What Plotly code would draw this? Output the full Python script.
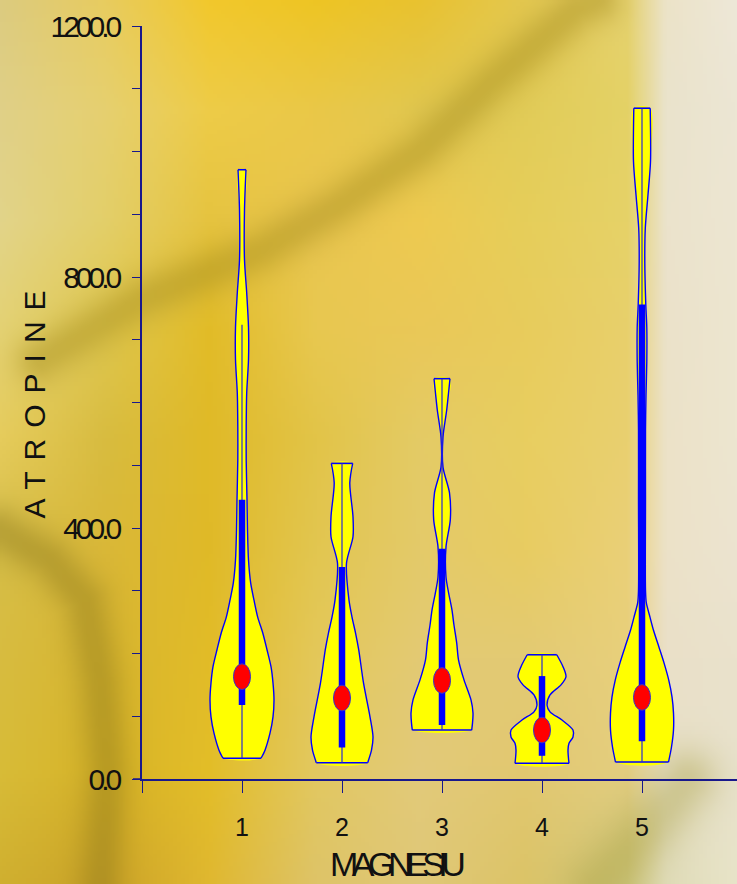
import plotly.graph_objects as go
import numpy as np
import zlib, struct, base64

# ---------------- data ----------------
groups = [1, 2, 3, 4, 5]
x_tick_vals = [0, 1, 2, 3, 4, 5]
x_tick_labels = ["", "1", "2", "3", "4", "5"]
y_tick_vals = [0, 100, 200, 300, 400, 500, 600, 700, 800, 900, 1000, 1100, 1200]
y_tick_labels = ["0.0", "", "", "", "400.0", "", "", "", "800.0", "", "", "", "1200.0"]

# violin outlines: y levels (bottom -> top) and half widths (category units)
v1_y = [33, 46, 73, 99, 126, 153, 179, 206, 233, 258, 285, 312, 349, 397, 445, 508, 561, 615, 668, 720, 775, 827, 907, 971]
v1_w = [0.19, 0.23, 0.28, 0.31, 0.32, 0.31, 0.29, 0.25, 0.207, 0.157, 0.12, 0.087, 0.065, 0.055, 0.05, 0.042, 0.042, 0.047, 0.065, 0.065, 0.047, 0.025, 0.025, 0.04]

v2_y = [26, 46, 67, 99, 153, 206, 233, 258, 285, 344, 386, 418, 472, 503]
v2_w = [0.257, 0.295, 0.31, 0.28, 0.215, 0.167, 0.135, 0.10, 0.07, 0.045, 0.11, 0.11, 0.078, 0.107]

v3_y = [78, 89, 105, 126, 158, 190, 217, 245, 269, 296, 322, 370, 413, 456, 497, 545, 588, 638]
v3_w = [0.297, 0.305, 0.31, 0.29, 0.22, 0.165, 0.147, 0.12, 0.10, 0.067, 0.04, 0.04, 0.083, 0.075, 0.01, 0.01, 0.047, 0.08]

v4_y = [25, 46, 57, 67, 78, 94, 107, 118, 134, 150, 163, 179, 198]
v4_w = [0.27, 0.26, 0.27, 0.31, 0.31, 0.20, 0.08, 0.05, 0.08, 0.19, 0.24, 0.21, 0.148]

v5_y = [27, 51, 78, 105, 131, 158, 185, 210, 237, 258, 281, 301, 445, 556, 612, 665, 719, 756, 824, 878, 931, 984, 1069]
v5_w = [0.265, 0.295, 0.315, 0.315, 0.30, 0.267, 0.22, 0.17, 0.115, 0.08, 0.043, 0.035, 0.035, 0.035, 0.04, 0.048, 0.048, 0.038, 0.028, 0.033, 0.06, 0.085, 0.082]

violin_y = [v1_y, v2_y, v3_y, v4_y, v5_y]
violin_w = [v1_w, v2_w, v3_w, v4_w, v5_w]

q1 = [118, 50, 86, 37, 60]
q3 = [445, 338, 367, 164, 756]
median = [163, 129, 157, 78, 130]
whisker_lo = [33, 26, 78, 25, 27]
whisker_hi = [724, 503, 638, 198, 1069]

# ---------------- styles ----------------
BLUE = "#0000FF"
NAVY = "#18188C"
YELLOW = "#FFFF00"
SANS = "Liberation Sans, Arial, sans-serif"

W, H = 737, 884
ML, MR, MT, MB = 142, 0, 26, 105
PW, PH = W - ML - MR, H - MT - MB

# ---------------- background texture (decoration only) ----------------
bg_xk = [0, 105, 210, 316, 421, 526, 630, 668, 737]
bg_yk = [0, 110, 220, 330, 440, 550, 660, 770, 884]
bg_rows = [
    ["#DCCB80", "#E8CC60", "#F2C82C", "#EEC524", "#E9C230", "#E4C850", "#E6D270", "#ECE3C8", "#EEE8D8"],
    ["#E0D088", "#E6D070", "#EECC48", "#EAC848", "#E2C850", "#E2CC58", "#E4D266", "#EAE3CC", "#ECE6D4"],
    ["#E2D48A", "#E3CF6A", "#E6C440", "#EAC650", "#EECA50", "#E6CE5A", "#E6D268", "#EBE3CC", "#EDE6D2"],
    ["#E4D274", "#E0C850", "#E2BC28", "#E8C850", "#EAC858", "#E8CC5C", "#E8D06C", "#EBE2CA", "#EDE6D0"],
    ["#E6CC5C", "#D8BC40", "#E0BA28", "#E2C448", "#E4CB66", "#E8CE60", "#E9D070", "#ECE2C8", "#EDE6D0"],
    ["#D6BE48", "#DAB838", "#E0BA28", "#E2C650", "#E4CA6A", "#E8CC62", "#EAD078", "#ECE2C8", "#ECE4D0"],
    ["#D8BC40", "#D8B630", "#E2BC28", "#E4C85A", "#E3CA74", "#E3CA74", "#E8D07C", "#EAE0C8", "#EAE2CC"],
    ["#D8BC38", "#D8B428", "#E3BE28", "#E2C860", "#E2CA7A", "#E2C870", "#E4CE80", "#E8E0C8", "#E8E2CC"],
    ["#D0B030", "#CCA428", "#E0B830", "#DEC468", "#E0C878", "#DCC468", "#D0C880", "#E0DCB8", "#E8E4C8"],
]
# darker streaks of the photo: (polyline, sigma px, colour, strength)
bg_strokes = [
    ([(40, 360), (141, 300), (263, 250), (338, 207), (423, 150), (493, 83), (578, 10), (600, 0)], 17, "#A89020", 0.45),
    ([(0, 530), (50, 560), (85, 600), (100, 680), (108, 770), (100, 884)], 17, "#8E7A1C", 0.42),
    ([(690, 780), (650, 830), (600, 884)], 22, "#A8A040", 0.38),
]


def hex_rgb(c):
    c = c.lstrip("#")
    return [int(c[i:i + 2], 16) for i in (0, 2, 4)]


def make_background(step=4):
    xs = np.arange(0, W, step) + step / 2
    ys = np.arange(0, H, step) + step / 2
    G = np.array([[hex_rgb(c) for c in row] for row in bg_rows], dtype=float)
    A = np.zeros((len(bg_yk), len(xs), 3))
    for r in range(len(bg_yk)):
        for ch in range(3):
            A[r, :, ch] = np.interp(xs, bg_xk, G[r, :, ch])
    img = np.zeros((len(ys), len(xs), 3))
    for ix in range(len(xs)):
        for ch in range(3):
            img[:, ix, ch] = np.interp(ys, bg_yk, A[:, ix, ch])
    X, Y = np.meshgrid(xs, ys)
    for pts, sig, col, strength in bg_strokes:
        d2 = np.full(X.shape, np.inf)
        for (x0, y0), (x1, y1) in zip(pts[:-1], pts[1:]):
            dx, dy = x1 - x0, y1 - y0
            t = np.clip(((X - x0) * dx + (Y - y0) * dy) / (dx * dx + dy * dy), 0, 1)
            px, py = x0 + t * dx, y0 + t * dy
            d2 = np.minimum(d2, (X - px) ** 2 + (Y - py) ** 2)
        a = strength * np.exp(-d2 / (2 * sig * sig))
        img = img * (1 - a[..., None]) + np.array(hex_rgb(col))[None, None, :] * a[..., None]
    img = np.clip(img, 0, 255).astype(np.uint8)
    h, w = img.shape[:2]
    raw = b"".join(b"\x00" + img[r].tobytes() for r in range(h))

    def chunk(t, d):
        c = struct.pack(">I", len(d)) + t + d
        return c + struct.pack(">I", zlib.crc32(t + d) & 0xFFFFFFFF)

    png = (b"\x89PNG\r\n\x1a\n"
           + chunk(b"IHDR", struct.pack(">IIBBBBB", w, h, 8, 2, 0, 0, 0))
           + chunk(b"IDAT", zlib.compress(raw, 9))
           + chunk(b"IEND", b""))
    return "data:image/png;base64," + base64.b64encode(png).decode()


fig = go.Figure()

for g, ys, ws in zip(groups, violin_y, violin_w):
    right_x = [g + w for w in ws]
    left_x = [g - w for w in ws]
    fig.add_trace(go.Scatter(
        x=right_x + left_x[::-1] + [right_x[0]],
        y=ys + ys[::-1] + [ys[0]],
        mode="lines", fill="toself", fillcolor=YELLOW,
        line=dict(width=0, shape="spline", smoothing=0.8),
        hoverinfo="skip", showlegend=False))
    for xs in (right_x, left_x):
        fig.add_trace(go.Scatter(
            x=xs, y=ys, mode="lines",
            line=dict(color=BLUE, width=1.4, shape="spline", smoothing=0.8),
            hoverinfo="skip", showlegend=False))
    fig.add_trace(go.Scatter(
        x=[left_x[0], right_x[0], None, left_x[-1], right_x[-1]],
        y=[ys[0], ys[0], None, ys[-1], ys[-1]],
        mode="lines", line=dict(color=BLUE, width=1.6),
        hoverinfo="skip", showlegend=False))

for g, lo, hi, a, b in zip(groups, whisker_lo, whisker_hi, q1, q3):
    fig.add_trace(go.Scatter(x=[g, g], y=[lo, hi], mode="lines",
                             line=dict(color="#2A2AD0", width=1.2),
                             hoverinfo="skip", showlegend=False))
    fig.add_trace(go.Scatter(x=[g, g], y=[a, b], mode="lines",
                             line=dict(color=BLUE, width=6.5),
                             hoverinfo="skip", showlegend=False))

shapes = []
EX, EY = 0.085, 20.5
for g, m in zip(groups, median):
    shapes.append(dict(type="circle", xref="x", yref="y",
                       x0=g - EX, x1=g + EX, y0=m - EY, y1=m + EY,
                       fillcolor="#FF0000", line=dict(color="#3333CC", width=1),
                       layer="above"))
shapes.append(dict(type="line", xref="paper", yref="y",
                   x0=-9 / PW, x1=0, y0=0, y1=0,
                   line=dict(color=NAVY, width=1.5)))

y_tick_text = ['<span style="letter-spacing:-4px">%s</span>' % t if t else "" for t in y_tick_labels]

fig.update_layout(
    width=W, height=H, autosize=False,
    margin=dict(l=ML, r=MR, t=MT, b=MB, pad=0),
    paper_bgcolor="#E3C860", plot_bgcolor="rgba(0,0,0,0)",
    showlegend=False,
    shapes=shapes,
    images=[dict(source=make_background(), xref="paper", yref="paper",
                 x=-ML / PW, y=1 + MT / PH, sizex=W / PW, sizey=H / PH,
                 xanchor="left", yanchor="top", sizing="stretch",
                 layer="below", opacity=1)],
    xaxis=dict(range=[0, 5.95], tickvals=x_tick_vals, ticktext=x_tick_labels,
               ticks="outside", ticklen=12, tickwidth=1.3, tickcolor=NAVY,
               showline=True, linecolor=NAVY, linewidth=1.5,
               showgrid=False, zeroline=False, ticklabelstandoff=13,
               tickfont=dict(family=SANS, size=25, color="#111111")),
    yaxis=dict(range=[0, 1200], tickvals=y_tick_vals, ticktext=y_tick_text,
               ticks="outside", ticklen=8, tickwidth=1.3, tickcolor=NAVY,
               showline=True, linecolor=NAVY, linewidth=1.5,
               showgrid=False, zeroline=False, ticklabelstandoff=8,
               tickfont=dict(family=SANS, size=30, color="#111111")),
    annotations=[
        dict(text='<span style="letter-spacing:11px">ATROPINE</span>',
             xref="paper", yref="paper", x=(34 - ML) / PW, y=(779 - 399.5) / PH,
             xanchor="center", yanchor="middle", textangle=-90, showarrow=False,
             font=dict(family=SANS, size=30, color="#111111")),
        dict(text='<span style="letter-spacing:-6.5px">MAGNESIU</span>',
             xref="paper", yref="paper", x=(396 - ML) / PW, y=(779 - 884) / PH,
             xanchor="center", yanchor="bottom", showarrow=False, borderpad=0,
             font=dict(family=SANS, size=34, color="#111111")),
    ],
)

fig.write_html("out.html")
